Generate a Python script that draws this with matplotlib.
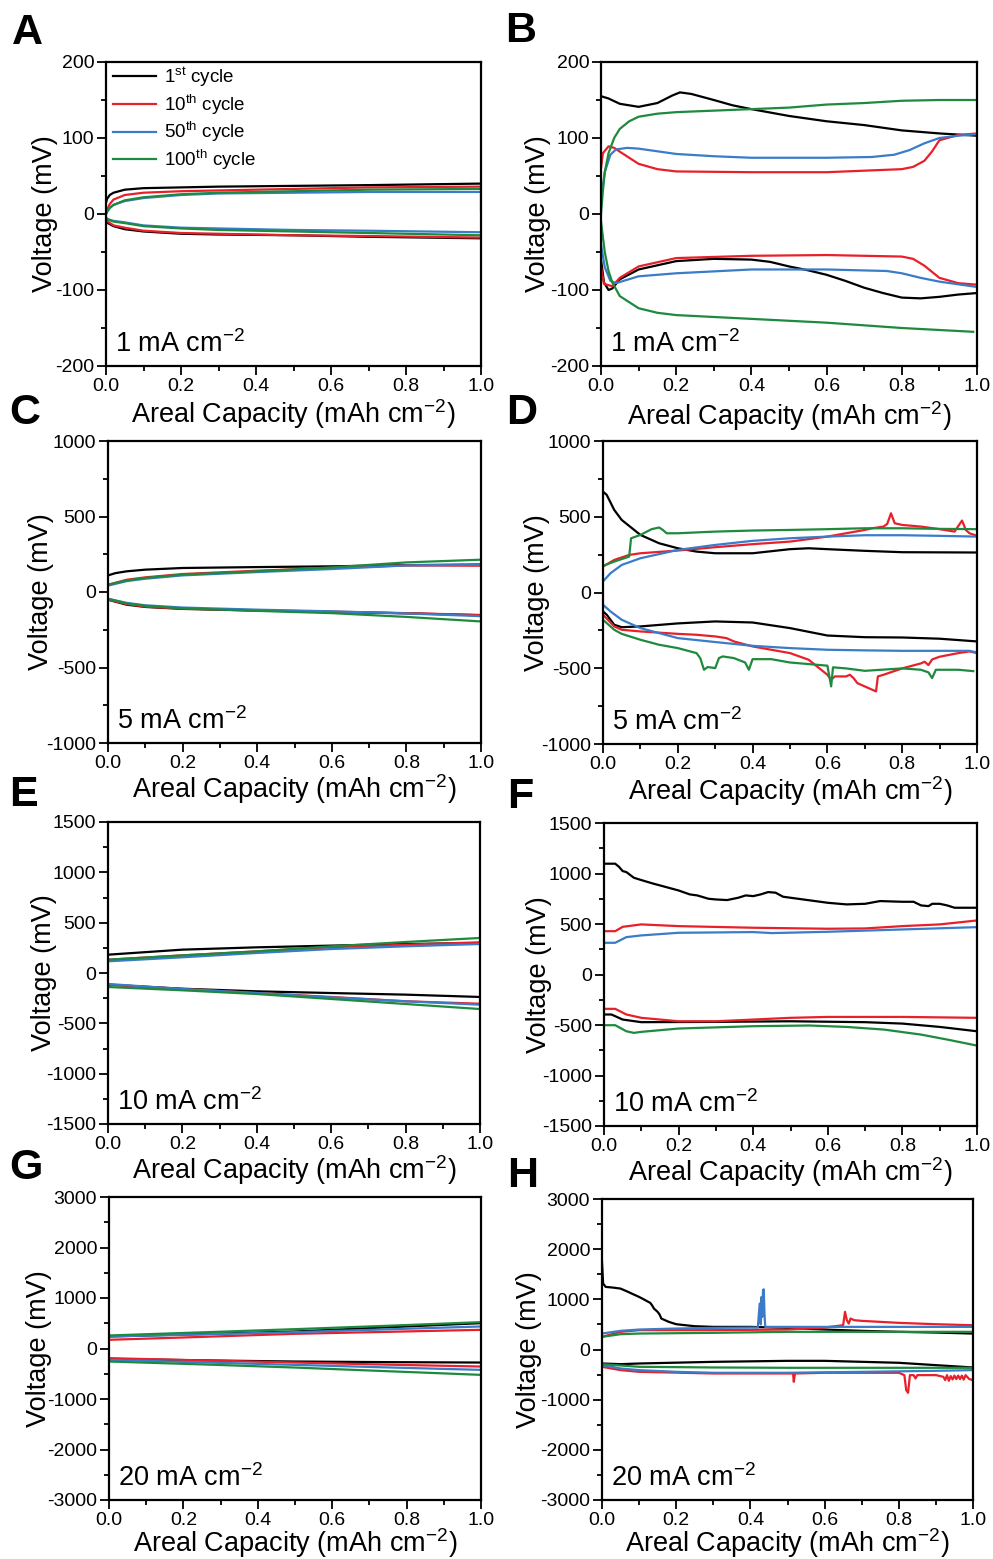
import matplotlib
matplotlib.use("Agg")
import matplotlib.pyplot as plt
from matplotlib.ticker import MultipleLocator

plt.rcParams['font.family'] = ['Liberation Sans', 'DejaVu Sans']
plt.rcParams['mathtext.fontset'] = 'custom'
plt.rcParams['mathtext.rm'] = 'Liberation Sans'
plt.rcParams['mathtext.it'] = 'Liberation Sans:italic'
plt.rcParams['mathtext.bf'] = 'Liberation Sans:bold'
plt.rcParams['axes.unicode_minus'] = False

# cycles and their colours
cycles = ['1', '10', '50', '100']
cycle_sup = ['st', 'th', 'th', 'th']
colors = ['black', '#e8202a', '#3a7cc8', '#1e8a3e']

# ---- data: (areal capacity, voltage in mV), charge (up) and discharge (dn) ----
# A: 1 mA cm-2
A_up_1 = [(0, 15), (0.003, 20), (0.01, 25), (0.02, 28), (0.05, 32), (0.1, 34), (0.2, 35), (0.3, 36), (0.5, 37), (0.7, 38), (1.0, 40)]
A_up_10 = [(0, 0), (0.003, 6), (0.01, 13), (0.02, 19), (0.05, 25), (0.1, 28), (0.2, 30), (0.3, 31), (0.5, 33), (0.7, 35), (1.0, 36)]
A_up_50 = [(0, 0), (0.003, 3), (0.01, 8), (0.02, 12), (0.05, 17), (0.1, 21), (0.2, 25), (0.3, 27), (0.5, 28), (0.7, 29), (1.0, 29)]
A_up_100 = [(0, 0), (0.003, 3), (0.01, 8), (0.02, 12), (0.05, 18), (0.1, 22), (0.2, 26), (0.3, 28), (0.5, 30), (0.7, 32), (1.0, 33), (1.0, 5)]
A_dn_1 = [(0, -5), (0.005, -12), (0.02, -16), (0.05, -20), (0.1, -23), (0.2, -26), (0.3, -27), (0.5, -28), (0.7, -30), (1.0, -32)]
A_dn_10 = [(0, -5), (0.005, -10), (0.02, -15), (0.05, -18), (0.1, -22), (0.2, -25), (0.3, -26), (0.5, -28), (0.7, -29), (1.0, -31)]
A_dn_50 = [(0, -5), (0.005, -7), (0.02, -9), (0.05, -11), (0.1, -15), (0.2, -18), (0.3, -19), (0.5, -21), (0.7, -22), (1.0, -24)]
A_dn_100 = [(0, -5), (0.005, -7), (0.02, -10), (0.05, -12), (0.1, -16), (0.2, -19), (0.3, -21), (0.5, -23), (0.7, -25), (1.0, -28)]

# B: 1 mA cm-2
B_up_1 = [(0, 155), (0.02, 152), (0.05, 145), (0.1, 141), (0.15, 146), (0.19, 156), (0.21, 160), (0.24, 158), (0.3, 150),
          (0.35, 143), (0.4, 138), (0.5, 129), (0.6, 122), (0.7, 117), (0.8, 110), (0.9, 106), (1.0, 103)]
B_up_10 = [(0, 60), (0.005, 80), (0.02, 89), (0.035, 87), (0.05, 82), (0.1, 66), (0.15, 59), (0.2, 56), (0.4, 55), (0.6, 55),
           (0.8, 59), (0.83, 62), (0.86, 70), (0.88, 82), (0.9, 97), (0.95, 104), (1.0, 106)]
B_up_50 = [(0, 20), (0.01, 55), (0.025, 78), (0.04, 85), (0.07, 87), (0.1, 86), (0.2, 79), (0.3, 76), (0.4, 74), (0.6, 74),
           (0.72, 75), (0.78, 78), (0.82, 84), (0.86, 93), (0.9, 100), (0.95, 103), (1.0, 105)]
B_up_100 = [(0, 0), (0.005, 30), (0.01, 55), (0.02, 80), (0.035, 100), (0.05, 112), (0.075, 122), (0.1, 128), (0.15, 132),
            (0.2, 134), (0.3, 136), (0.4, 138), (0.5, 140), (0.6, 144), (0.7, 146), (0.8, 149), (0.9, 150), (1.0, 150)]
B_dn_1 = [(0, -60), (0.008, -90), (0.02, -100), (0.03, -98), (0.05, -86), (0.1, -73), (0.2, -62), (0.3, -59), (0.4, -60),
          (0.45, -63), (0.5, -69), (0.55, -74), (0.6, -80), (0.65, -88), (0.7, -97), (0.75, -104), (0.8, -110),
          (0.85, -111), (0.9, -109), (0.95, -106), (1.0, -104)]
B_dn_10 = [(0, -70), (0.008, -92), (0.03, -95), (0.05, -84), (0.1, -69), (0.2, -58), (0.4, -55), (0.6, -54), (0.8, -56),
           (0.83, -59), (0.86, -68), (0.9, -84), (0.95, -91), (1.0, -93)]
B_dn_50 = [(0, -40), (0.01, -70), (0.025, -88), (0.04, -91), (0.1, -82), (0.2, -78), (0.4, -73), (0.6, -73), (0.76, -75),
           (0.8, -78), (0.85, -84), (0.9, -89), (1.0, -96)]
B_dn_100 = [(0, -10), (0.01, -50), (0.02, -75), (0.03, -90), (0.05, -108), (0.1, -124), (0.15, -130), (0.2, -133),
            (0.4, -138), (0.6, -143), (0.8, -150), (0.99, -155)]

# C: 5 mA cm-2
C_up_1 = [(0, 110), (0.02, 125), (0.05, 137), (0.1, 148), (0.2, 159), (0.4, 165), (0.6, 170), (0.8, 178), (1.0, 182)]
C_up_10 = [(0, 48), (0.05, 81), (0.1, 97), (0.2, 119), (0.4, 141), (0.6, 160), (0.8, 176), (1.0, 174)]
C_up_50 = [(0, 42), (0.05, 72), (0.1, 88), (0.2, 110), (0.4, 132), (0.6, 152), (0.8, 176), (1.0, 181)]
C_up_100 = [(0, 48), (0.05, 76), (0.1, 93), (0.2, 115), (0.4, 137), (0.6, 163), (0.8, 196), (1.0, 214)]
C_dn_1 = [(0, -51), (0.05, -84), (0.1, -99), (0.2, -112), (0.4, -123), (0.6, -132), (0.8, -141), (1.0, -154)]
C_dn_10 = [(0, -50), (0.05, -80), (0.1, -97), (0.2, -110), (0.4, -121), (0.6, -130), (0.8, -140), (1.0, -152)]
C_dn_50 = [(0, -45), (0.05, -72), (0.1, -88), (0.2, -103), (0.4, -117), (0.6, -128), (0.8, -142), (1.0, -160)]
C_dn_100 = [(0, -45), (0.05, -75), (0.1, -92), (0.2, -108), (0.4, -125), (0.6, -140), (0.8, -165), (1.0, -195)]

# D: 5 mA cm-2
D_up_1 = [(0, 666), (0.01, 644), (0.03, 545), (0.05, 479), (0.1, 380), (0.15, 325), (0.2, 292), (0.25, 270), (0.3, 259),
          (0.4, 259), (0.5, 286), (0.55, 292), (0.6, 286), (0.7, 275), (0.8, 266), (1.0, 264)]
D_up_10 = [(0, 171), (0.03, 215), (0.07, 248), (0.1, 259), (0.2, 277), (0.3, 299), (0.4, 319), (0.5, 336), (0.6, 369),
           (0.65, 391), (0.7, 413), (0.72, 424), (0.75, 435), (0.76, 453), (0.77, 523), (0.78, 457), (0.8, 446),
           (0.85, 435), (0.9, 418), (0.94, 402), (0.96, 475), (0.97, 413), (0.98, 391), (1.0, 374)]
D_up_50 = [(0, 73), (0.02, 127), (0.05, 182), (0.1, 226), (0.2, 281), (0.3, 314), (0.4, 341), (0.5, 358), (0.6, 369),
           (0.7, 378), (0.8, 378), (0.9, 374), (1.0, 369)]
D_up_100 = [(0, 176), (0.03, 204), (0.07, 237), (0.075, 358), (0.1, 380), (0.13, 418), (0.15, 429), (0.16, 413),
            (0.17, 391), (0.2, 391), (0.3, 402), (0.4, 409), (0.5, 413), (0.6, 418), (0.7, 424), (0.8, 424), (0.9, 420),
            (1.0, 418)]
D_dn_1 = [(0, -125), (0.01, -147), (0.03, -213), (0.05, -229), (0.1, -224), (0.2, -204), (0.3, -191), (0.4, -198),
          (0.5, -235), (0.6, -284), (0.7, -295), (0.8, -297), (0.9, -305), (1.0, -323)]
D_dn_10 = [(0, -147), (0.03, -224), (0.05, -246), (0.1, -257), (0.2, -273), (0.25, -279), (0.3, -290), (0.33, -301),
           (0.35, -323), (0.4, -356), (0.5, -400), (0.55, -444), (0.6, -543), (0.61, -576), (0.62, -554), (0.65, -554),
           (0.66, -543), (0.67, -565), (0.68, -598), (0.7, -620), (0.73, -653), (0.735, -554), (0.75, -543),
           (0.8, -501), (0.85, -468), (0.86, -457), (0.87, -479), (0.88, -442), (0.9, -424), (0.95, -400), (0.98, -389),
           (1.0, -400)]
D_dn_50 = [(0, -81), (0.02, -125), (0.05, -180), (0.1, -235), (0.2, -301), (0.3, -327), (0.4, -352), (0.5, -367),
           (0.6, -378), (0.7, -382), (0.8, -385), (0.98, -385), (1.0, -396)]
D_dn_100 = [(0, -180), (0.03, -246), (0.05, -273), (0.1, -312), (0.15, -345), (0.2, -367), (0.25, -400), (0.26, -433),
            (0.27, -510), (0.28, -492), (0.3, -499), (0.31, -433), (0.32, -422), (0.35, -433), (0.38, -462),
            (0.39, -510), (0.4, -440), (0.45, -440), (0.5, -462), (0.6, -483), (0.61, -620), (0.615, -494),
            (0.65, -501), (0.7, -517), (0.8, -501), (0.85, -510), (0.87, -527), (0.88, -565), (0.89, -510),
            (0.95, -510), (0.99, -519)]

# E: 10 mA cm-2
E_up_1 = [(0, 182), (0.2, 232), (0.4, 255), (0.6, 272), (0.8, 288), (1.0, 298)]
E_up_10 = [(0, 132), (0.2, 175), (0.4, 215), (0.6, 255), (0.8, 281), (1.0, 305)]
E_up_50 = [(0, 116), (0.2, 156), (0.4, 199), (0.6, 238), (0.8, 265), (1.0, 288)]
E_up_100 = [(0, 132), (0.2, 175), (0.4, 215), (0.6, 265), (0.8, 308), (1.0, 348)]
E_dn_1 = [(0, -116), (0.2, -156), (0.4, -182), (0.6, -199), (0.8, -215), (1.0, -238)]
E_dn_10 = [(0, -116), (0.2, -159), (0.4, -199), (0.6, -238), (0.8, -281), (1.0, -305)]
E_dn_50 = [(0, -109), (0.2, -159), (0.4, -199), (0.6, -242), (0.8, -281), (1.0, -315)]
E_dn_100 = [(0, -139), (0.2, -172), (0.4, -209), (0.6, -258), (0.8, -308), (1.0, -358)]

# F: 10 mA cm-2 (no visible 100th charge / 50th discharge trace)
F_up_1 = [(0, 1097), (0.03, 1097), (0.04, 1067), (0.05, 1024), (0.06, 1014), (0.08, 958), (0.1, 935), (0.13, 902),
          (0.15, 882), (0.2, 832), (0.23, 793), (0.25, 783), (0.28, 750), (0.3, 743), (0.33, 737), (0.36, 760),
          (0.38, 783), (0.4, 776), (0.42, 793), (0.44, 816), (0.46, 810), (0.48, 770), (0.5, 760), (0.6, 710),
          (0.65, 694), (0.7, 700), (0.74, 727), (0.8, 720), (0.83, 720), (0.85, 684), (0.87, 677), (0.88, 700),
          (0.9, 700), (0.92, 684), (0.94, 661), (1.0, 661)]
F_up_10 = [(0, 429), (0.03, 429), (0.05, 472), (0.1, 496), (0.2, 479), (0.4, 463), (0.6, 453), (0.7, 456), (0.8, 479),
           (0.9, 496), (1.0, 535)]
F_up_50 = [(0, 314), (0.03, 314), (0.06, 370), (0.1, 387), (0.2, 413), (0.4, 420), (0.45, 410), (0.6, 423), (0.8, 446),
           (1.0, 469)]
F_up_100 = []
F_dn_1 = [(0, -396), (0.02, -396), (0.05, -446), (0.1, -472), (0.3, -469), (0.5, -463), (0.7, -472), (0.8, -486),
          (0.9, -519), (1.0, -562)]
F_dn_10 = [(0, -340), (0.03, -340), (0.06, -396), (0.1, -429), (0.2, -463), (0.3, -463), (0.4, -446), (0.5, -429),
           (0.6, -420), (0.8, -420), (1.0, -429)]
F_dn_50 = []
F_dn_100 = [(0, -502), (0.03, -502), (0.06, -562), (0.08, -578), (0.1, -568), (0.2, -535), (0.4, -512), (0.55, -505),
            (0.65, -519), (0.75, -545), (0.85, -595), (0.92, -644), (1.0, -704)]

# G: 20 mA cm-2
G_up_1 = [(0, 238), (0.25, 285), (0.5, 337), (0.75, 420), (1.0, 502)]
G_up_10 = [(0, 172), (0.25, 230), (0.5, 291), (0.75, 330), (1.0, 370)]
G_up_50 = [(0, 238), (0.25, 280), (0.5, 324), (0.75, 380), (1.0, 436)]
G_up_100 = [(0, 258), (0.25, 320), (0.5, 383), (0.75, 450), (1.0, 522)]
G_dn_1 = [(0, -205), (0.25, -235), (0.5, -258), (0.75, -270), (1.0, -278)]
G_dn_10 = [(0, -192), (0.25, -235), (0.5, -278), (0.75, -320), (1.0, -357)]
G_dn_50 = [(0, -225), (0.25, -275), (0.5, -324), (0.75, -375), (1.0, -423)]
G_dn_100 = [(0, -258), (0.25, -315), (0.5, -377), (0.75, -450), (1.0, -522)]

# H: 20 mA cm-2
H_up_1 = [(0, 1745), (0.003, 1314), (0.01, 1248), (0.03, 1234), (0.05, 1214), (0.07, 1150), (0.08, 1115), (0.1, 1048),
          (0.11, 1010), (0.12, 969), (0.13, 930), (0.135, 880), (0.14, 816), (0.15, 750), (0.155, 700), (0.16, 617),
          (0.17, 584), (0.18, 551), (0.2, 504), (0.25, 464), (0.3, 451), (0.4, 451), (0.5, 431), (0.6, 398),
          (0.7, 372), (0.8, 352), (0.9, 338), (1.0, 318)]
H_up_10 = [(0, 252), (0.05, 352), (0.1, 385), (0.3, 385), (0.5, 398), (0.6, 438), (0.65, 484), (0.655, 750),
           (0.66, 584), (0.665, 517), (0.67, 617), (0.68, 584), (0.7, 571), (0.8, 531), (0.9, 504), (1.0, 484)]
H_up_50 = [(0, 318), (0.05, 372), (0.1, 398), (0.2, 418), (0.3, 431), (0.42, 438), (0.425, 916), (0.428, 500),
           (0.43, 1048), (0.432, 650), (0.434, 1181), (0.436, 1200), (0.438, 700), (0.44, 451), (0.5, 451),
           (0.6, 451), (0.8, 451), (1.0, 451)]
H_up_100 = [(0, 252), (0.05, 305), (0.1, 318), (0.3, 332), (0.5, 352), (0.7, 352), (0.9, 352), (1.0, 352)]
H_dn_1 = [(0, -279), (0.05, -292), (0.1, -279), (0.3, -246), (0.5, -226), (0.6, -226), (0.8, -265), (0.9, -312),
          (1.0, -358)]
H_dn_10 = [(0, -345), (0.05, -411), (0.1, -445), (0.3, -478), (0.5, -478), (0.515, -478), (0.517, -644), (0.52, -478),
           (0.6, -464), (0.8, -464), (0.815, -511), (0.82, -810), (0.825, -863), (0.83, -511), (0.84, -511),
           (0.845, -577), (0.85, -511), (0.9, -511), (0.92, -544), (0.925, -610), (0.93, -511), (0.935, -624),
           (0.94, -530), (0.945, -597), (0.95, -520), (0.955, -590), (0.96, -520), (0.965, -590), (0.97, -520),
           (0.975, -600), (0.98, -511), (0.99, -590), (1.0, -610)]
H_dn_50 = [(0, -312), (0.05, -378), (0.1, -411), (0.2, -445), (0.3, -464), (0.5, -464), (0.7, -445), (0.9, -425),
           (1.0, -411)]
H_dn_100 = [(0, -292), (0.1, -345), (0.3, -358), (0.5, -365), (0.7, -365), (1.0, -365)]

currents = ['1', '1', '5', '5', '10', '10', '20', '20']
ylims = [(-200, 200), (-200, 200), (-1000, 1000), (-1000, 1000), (-1500, 1500), (-1500, 1500), (-3000, 3000), (-3000, 3000)]
ymajor = [100, 100, 500, 500, 500, 500, 1000, 1000]

curves_up = [
    [A_up_1, A_up_10, A_up_50, A_up_100], [B_up_1, B_up_10, B_up_50, B_up_100],
    [C_up_1, C_up_10, C_up_50, C_up_100], [D_up_1, D_up_10, D_up_50, D_up_100],
    [E_up_1, E_up_10, E_up_50, E_up_100], [F_up_1, F_up_10, F_up_50, F_up_100],
    [G_up_1, G_up_10, G_up_50, G_up_100], [H_up_1, H_up_10, H_up_50, H_up_100],
]
curves_dn = [
    [A_dn_1, A_dn_10, A_dn_50, A_dn_100], [B_dn_1, B_dn_10, B_dn_50, B_dn_100],
    [C_dn_1, C_dn_10, C_dn_50, C_dn_100], [D_dn_1, D_dn_10, D_dn_50, D_dn_100],
    [E_dn_1, E_dn_10, E_dn_50, E_dn_100], [F_dn_1, F_dn_10, F_dn_50, F_dn_100],
    [G_dn_1, G_dn_10, G_dn_50, G_dn_100], [H_dn_1, H_dn_10, H_dn_50, H_dn_100],
]

# layout in pixels (left, top, right, bottom), panel letter positions, y-label right edge
W, H = 993, 1559
boxes = [(106, 62, 481, 366), (601, 62, 977, 366),
         (108, 441, 481, 743), (603, 441, 977, 744),
         (108, 822, 480, 1124), (604, 823, 977, 1126),
         (109, 1197, 481, 1500), (602, 1199, 973, 1500)]
letters = ['A', 'B', 'C', 'D', 'E', 'F', 'G', 'H']
letter_pos = [(12, 33), (505, 31), (9, 413), (506, 413), (9, 795), (507, 797), (9, 1168), (507, 1176)]
ylabel_right = [58, 551, 54, 550, 57, 552, 52, 542]
xlabel_pad = [2, 3, 0, 1, 0, 0, -2, -2]

fig = plt.figure(figsize=(W / 100, H / 100), dpi=100)

for i in range(8):
    l, t, r, b = boxes[i]
    ax = fig.add_axes([l / W, 1 - b / H, (r - l) / W, (b - t) / H])
    for k in range(4):
        for pts in (curves_up[i][k], curves_dn[i][k]):
            if pts:
                xs, ys = zip(*pts)
                ax.plot(xs, ys, color=colors[k], lw=1.6)
    ax.set_xlim(0, 1.0)
    ax.set_ylim(*ylims[i])
    ax.xaxis.set_major_locator(MultipleLocator(0.2))
    ax.xaxis.set_minor_locator(MultipleLocator(0.1))
    ax.yaxis.set_major_locator(MultipleLocator(ymajor[i]))
    ax.yaxis.set_minor_locator(MultipleLocator(ymajor[i] / 2))
    ax.xaxis.set_major_formatter(plt.FuncFormatter(lambda v, p: f'{v:.1f}'))
    ax.yaxis.set_major_formatter(plt.FuncFormatter(lambda v, p: f'{v:.0f}'))
    ax.tick_params(which='both', direction='out', top=False, right=False, width=1.3, labelsize=14, pad=2)
    ax.tick_params(which='major', length=6.5)
    ax.tick_params(which='minor', length=3.5)
    for s in ax.spines.values():
        s.set_linewidth(1.6)
    ax.set_xlabel(r'Areal Capacity (mAh cm$^{-2}$)', fontsize=19.5, labelpad=xlabel_pad[i])
    ax.set_ylabel('Voltage (mV)', fontsize=19.5)
    ax.yaxis.set_label_coords((ylabel_right[i] - l) / (r - l), 0.5)
    ax.text(0.025, 0.025, currents[i] + r' mA cm$^{-2}$', transform=ax.transAxes, fontsize=19.5,
            ha='left', va='bottom')
    if i == 0:
        for k in range(4):
            ax.plot([], [], color=colors[k], lw=1.6,
                    label=cycles[k] + r'$^{\mathrm{' + cycle_sup[k] + '}}$ cycle')
        ax.legend(loc='upper left', bbox_to_anchor=(0.0, 1.01), frameon=False, fontsize=13.5,
                  handlelength=2.3, labelspacing=0.18, borderaxespad=0.0, handletextpad=0.45, borderpad=0.35)
    lx, ly = letter_pos[i]
    fig.text(lx / W, 1 - ly / H, letters[i], fontsize=31, fontweight='bold', ha='left', va='center')

fig.savefig('out.png', dpi=100)
